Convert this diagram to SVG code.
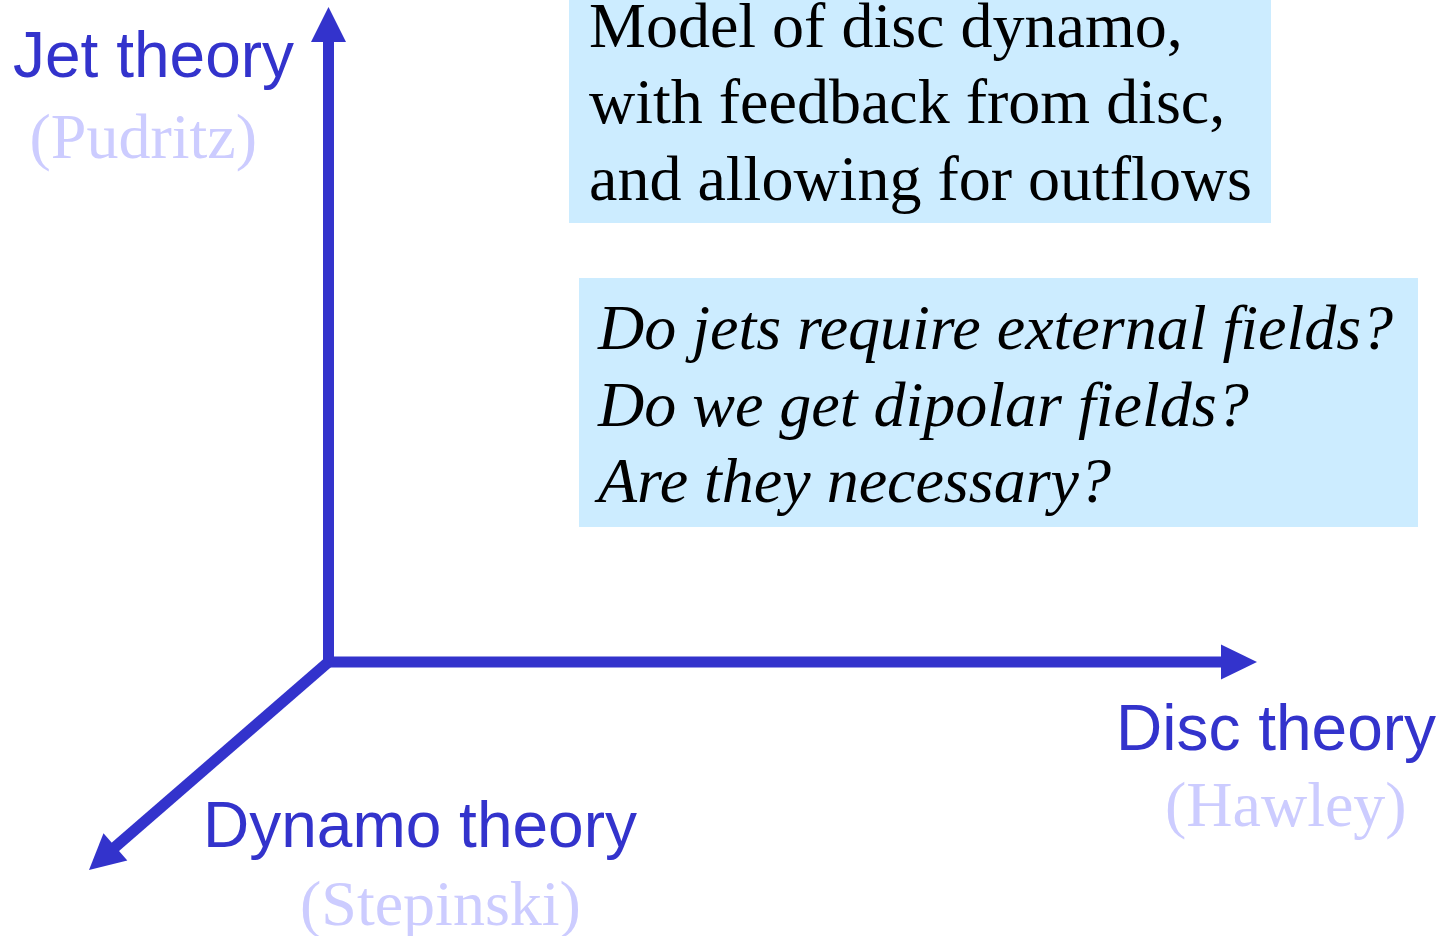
<svg xmlns="http://www.w3.org/2000/svg" width="1452" height="936" viewBox="0 0 1452 936">
<style>
.box{fill:#CCECFF;stroke:none}
.txt{font-family:"Liberation Serif","Times New Roman",serif;font-size:64px;fill:#000}
.it{font-style:italic}
.ax{font-family:"Liberation Sans",Arial,sans-serif;font-size:64px;fill:#3333CC}
.who{font-family:"Liberation Serif","Times New Roman",serif;font-size:64px;fill:#CCCCFF}
.axis{stroke:#3333CC;stroke-width:11;fill:none}
.head{fill:#3333CC;stroke:none}
</style>
<rect width="1452" height="936" fill="#FFFFFF"/>
<g id="connectors">
<path class="axis" d="M328.5 42 L328.5 662 L1222 662" stroke-linejoin="miter"/>
<line class="axis" x1="328.5" y1="662" x2="114" y2="848"/>
<polygon class="head" points="328.5,7 311,42 346,42"/>
<polygon class="head" points="1257,662 1221,644.5 1221,679.5"/>
<polygon class="head" points="89,870 103.5,833.3 127.3,860.5"/>
</g>
<g id="jet-axis-label">
<text class="ax" x="13" y="77">Jet theory</text>
<text class="who" x="29.5" y="158">(Pudritz)</text>
</g>
<g id="disc-axis-label">
<text class="ax" x="1116" y="750">Disc theory</text>
<text class="who" x="1165" y="826">(Hawley)</text>
</g>
<g id="dynamo-axis-label">
<text class="ax" x="203" y="847">Dynamo theory</text>
<text class="who" x="300" y="925">(Stepinski)</text>
</g>
<g id="model-box">
<rect class="box" x="569" y="0" width="702" height="223"/>
<text class="txt" x="589" y="47">Model of disc dynamo,</text>
<text class="txt" x="589" y="123">with feedback from disc,</text>
<text class="txt" x="589" y="200">and allowing for outflows</text>
</g>
<g id="questions-box">
<rect class="box" x="579" y="278" width="839" height="249"/>
<text class="txt it" x="598" y="349">Do jets require external fields?</text>
<text class="txt it" x="598" y="426">Do we get dipolar fields?</text>
<text class="txt it" x="598" y="502">Are they necessary?</text>
</g>
</svg>
